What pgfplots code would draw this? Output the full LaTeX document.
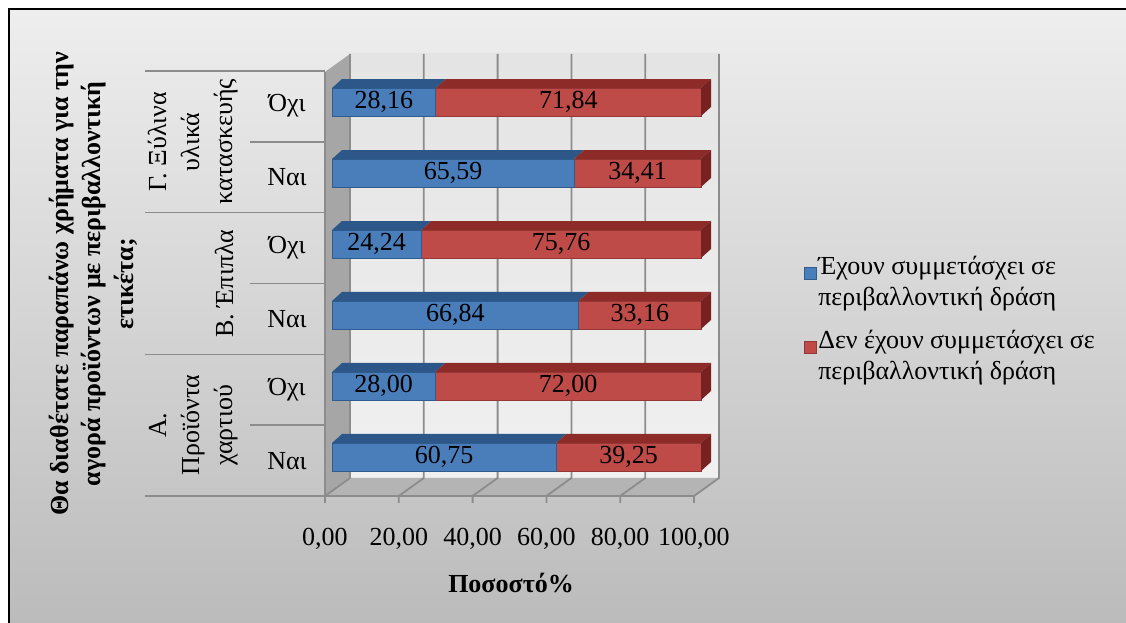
\documentclass[border=0pt]{standalone}
\usepackage{pgfplots}
\usepackage{pgfplotstable}
\pgfplotsset{compat=1.18}
\usepackage{fontspec}
\setmainfont{Liberation Serif}
\definecolor{bluefront}{HTML}{4A7EBB}
\definecolor{blueedge}{HTML}{2F5C8F}
\definecolor{bluetop}{HTML}{2C5788}
\definecolor{redfront}{HTML}{BE4B48}
\definecolor{rededge}{HTML}{953735}
\definecolor{redtop}{HTML}{8C2B28}
\definecolor{redside}{HTML}{772220}
\definecolor{gridc}{HTML}{8C8C8C}
\definecolor{wallc}{HTML}{A6A6A6}
\definecolor{floorc}{HTML}{B4B4B4}
\definecolor{bgtop}{HTML}{EEEEEE}
\definecolor{bgbot}{HTML}{BBBBBB}
\definecolor{walltop}{HTML}{E4E4E4}
\definecolor{wallbot}{HTML}{F0F0F0}

\pgfplotstableread{
y yes no
0 60.75 39.25
1 28.00 72.00
2 66.84 33.16
3 24.24 75.76
4 65.59 34.41
5 28.16 71.84
}\datatab

\newcommand{\topface}[4]{\fill[#4] ([yshift=7pt]axis cs:#1,#3) -- ([shift={(5pt,11.5pt)}]axis cs:#1,#3) -- ([shift={(5pt,11.5pt)}]axis cs:#2,#3) -- ([yshift=7pt]axis cs:#2,#3) -- cycle;}
\newcommand{\sideface}[3]{\fill[#3] ([yshift=7pt]axis cs:#1,#2) -- ([shift={(5pt,11.5pt)}]axis cs:#1,#2) -- ([shift={(5pt,-2.5pt)}]axis cs:#1,#2) -- ([yshift=-7pt]axis cs:#1,#2) -- cycle;}

\begin{document}
\begin{tikzpicture}
\useasboundingbox (0,0) rectangle (563pt,311pt);
\fill[white] (0,0) rectangle (563pt,311pt);
\begin{scope}[x=0.5pt,y=-0.5pt,yshift=311pt]
 \shade[top color=bgtop,bottom color=bgbot] (9,9) rectangle (1130,626);
 \draw[black,line width=1pt] (9,626) -- (9,9) -- (1130,9);
 % back wall
 \shade[top color=walltop,bottom color=wallbot] (350,54) rectangle (719,478);
 % left wall
 \fill[wallc] (325,496) -- (325,72) -- (350,54) -- (350,478) -- cycle;
 % floor
 \fill[floorc] (325,496) -- (694,496) -- (719,478) -- (350,478) -- cycle;
 \foreach \i in {0,...,5} {
   \draw[gridc,line width=0.9pt] ({350+73.8*\i},54) -- ({350+73.8*\i},478) -- ({325+73.8*\i},496) -- ({325+73.8*\i},503);
 }
 \draw[gridc,line width=0.9pt] (325,72) -- (325,496) -- (694,496);
 % category table lines
 \foreach \yy in {71,212.7,354.3,496} { \draw[gridc,line width=0.75pt] (145,\yy) -- (325,\yy); }
 \foreach \yy in {141.8,283.5,425.2} { \draw[gridc,line width=0.75pt] (250,\yy) -- (325,\yy); }
 % group labels
 \node[rotate=90,anchor=south,align=center,font=\fontsize{13}{16.5}\selectfont,inner sep=1pt] at (240,141.8) {Γ. Ξύλινα\\υλικά\\κατασκευής};
 \node[rotate=90,anchor=south,align=center,font=\fontsize{13}{16.5}\selectfont,inner sep=1pt] at (236,283.5) {Β. Έπιπλα};
 \node[rotate=90,anchor=south,align=center,font=\fontsize{13}{16.5}\selectfont,inner sep=1pt] at (240,425.2) {Α.\\Προϊόντα\\χαρτιού};
 % axis titles
 \node[rotate=90,align=center,font=\fontsize{13}{16.3}\selectfont\bfseries] at (93,284) {Θα διαθέτατε παραπάνω χρήματα για την\\αγορά προϊόντων με περιβαλλοντική\\ετικέτα;};
 \node[font=\fontsize{13}{15.5}\selectfont\bfseries] at (511,583) {Ποσοστό\%};
\end{scope}

\begin{axis}[
  at={(166pt,64.75pt)}, anchor=south west,
  scale only axis, width=184.5pt, height=213pt,
  xmin=0, xmax=100, ymin=-0.5, ymax=5.5,
  xbar stacked, bar width=14pt,
  clip=false,
  axis line style={draw=none}, tick style={draw=none},
  xtick={0,20,...,100}, ytick={0,...,5},
  yticklabels={Ναι,Όχι,Ναι,Όχι,Ναι,Όχι},
  /pgf/number format/assume math mode=true,
  xticklabel style={/pgf/number format/fixed,/pgf/number format/fixed zerofill,/pgf/number format/precision=2,/pgf/number format/use comma, anchor=base, yshift=-26.5pt, xshift=-3.5pt},
  yticklabel style={anchor=center, xshift=-22.5pt, yshift=-2pt},
  ticklabel style={font=\fontsize{13}{15.5}\selectfont},
  legend cell align=left,
  legend style={at={(1.279,0.565)}, anchor=north west, draw=none, fill=none,
    font=\fontsize{13}{15.5}\selectfont, cells={align=left}, row sep=7pt, inner sep=0pt,
    nodes={inner xsep=0.5pt},
    /tikz/every even column/.append style={column sep=1.5pt}},
  legend image code/.code={\draw[#1,line width=0.5pt] (0pt,1.5pt) rectangle (6pt,7.5pt);},
]
\addplot[fill=bluefront, draw=blueedge, line width=0.5pt] table[x=yes, y=y]{\datatab};
\addlegendentry{Έχουν συμμετάσχει σε\\περιβαλλοντική δράση}
\addplot[fill=redfront, draw=rededge, line width=0.5pt] table[x=no, y=y]{\datatab};
\addlegendentry{Δεν έχουν συμμετάσχει σε\\περιβαλλοντική δράση}
\end{axis}

\begin{axis}[
  at={(166pt,64.75pt)}, anchor=south west,
  scale only axis, width=184.5pt, height=213pt,
  xmin=0, xmax=100, ymin=-0.5, ymax=5.5,
  hide axis, clip=false,
]
\topface{0}{60.75}{0}{bluetop}\topface{60.75}{100}{0}{redtop}\sideface{100}{0}{redside}
\topface{0}{28.00}{1}{bluetop}\topface{28.00}{100}{1}{redtop}\sideface{100}{1}{redside}
\topface{0}{66.84}{2}{bluetop}\topface{66.84}{100}{2}{redtop}\sideface{100}{2}{redside}
\topface{0}{24.24}{3}{bluetop}\topface{24.24}{100}{3}{redtop}\sideface{100}{3}{redside}
\topface{0}{65.59}{4}{bluetop}\topface{65.59}{100}{4}{redtop}\sideface{100}{4}{redside}
\topface{0}{28.16}{5}{bluetop}\topface{28.16}{100}{5}{redtop}\sideface{100}{5}{redside}
\addplot[draw=none, mark=none, point meta=explicit,
  nodes near coords={\pgfmathprintnumber[fixed,fixed zerofill,precision=2,use comma,assume math mode=true]{\pgfplotspointmeta}},
  nodes near coords style={anchor=center, font=\fontsize{13}{15.5}\selectfont, text=black}]
  table[x expr=\thisrow{yes}/2, y=y, meta=yes]{\datatab};
\addplot[draw=none, mark=none, point meta=explicit,
  nodes near coords={\pgfmathprintnumber[fixed,fixed zerofill,precision=2,use comma,assume math mode=true]{\pgfplotspointmeta}},
  nodes near coords style={anchor=center, font=\fontsize{13}{15.5}\selectfont, text=black}]
  table[x expr=\thisrow{yes}+\thisrow{no}/2, y=y, meta=no]{\datatab};
\end{axis}
\end{tikzpicture}
\end{document}
